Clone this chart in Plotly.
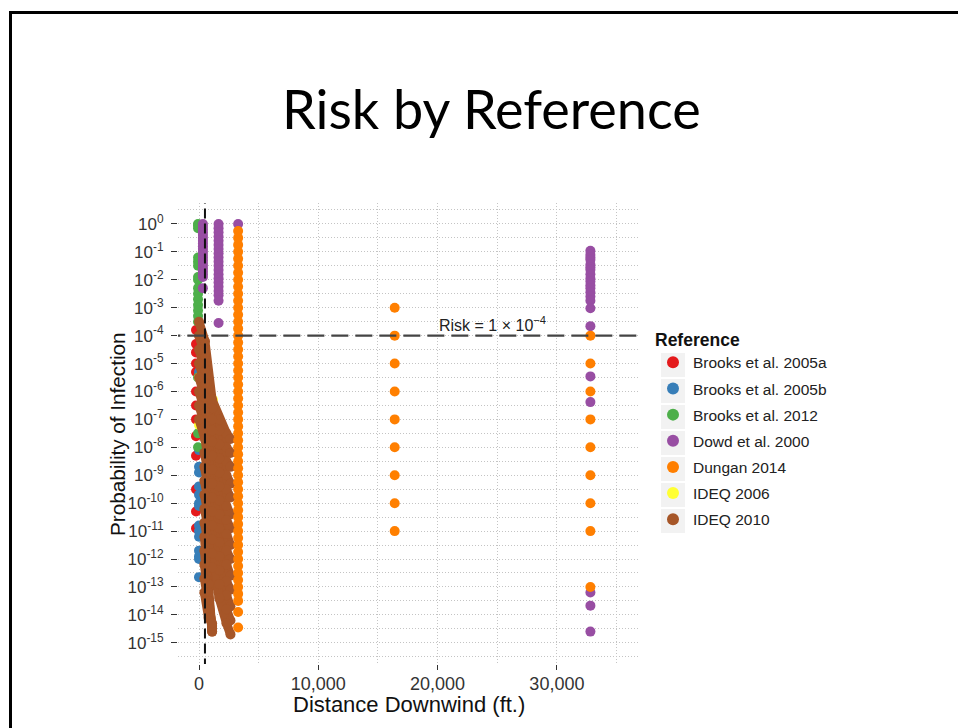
import plotly.graph_objects as go

# ---------------- data (log10 of probability) ----------------
brooks2005a_x = [-250] * 13
brooks2005a_log = [-3.8, -4.3, -4.6, -5.0, -5.3, -6.0, -6.5, -7.0, -7.6, -8.3, -9.5, -10.3, -10.9]

brooks2005b_x = [0] * 15
brooks2005b_log = [-5.3, -8.1, -8.7, -8.9, -9.4, -9.7, -10.0, -10.1, -10.8, -11.0, -11.2, -11.7, -11.9, -12.0, -12.65]

brooks2012_x = [-80] * 18
brooks2012_log = [0.0, -0.05, -0.15, -1.2, -1.35, -1.5, -1.9, -2.0, -2.3, -2.5, -2.7, -2.9, -3.1, -3.3, -3.5, -5.5, -7.5, -8.0]

dowd_x = [328] * 21 + [1640] * 20 + [3281] + [32808] * 22
dowd_log = ([0.0, -0.1, -0.2, -0.3, -0.4, -0.5, -0.6, -0.7, -0.8, -0.9, -1.0, -1.1, -1.2, -1.3, -1.4,
             -1.5, -1.6, -1.7, -1.8, -1.9, -2.3]
            + [0.0, -0.15, -0.3, -0.45, -0.6, -0.75, -0.9, -1.05, -1.2, -1.35, -1.5, -1.65, -1.8, -1.95,
               -2.1, -2.25, -2.4, -2.55, -2.75, -3.55]
            + [0.0]
            + [-0.96, -1.1, -1.2, -1.28, -1.45, -1.55, -1.64, -1.8, -1.95, -2.06, -2.2, -2.3, -2.45,
               -2.6, -2.75, -3.02, -3.66, -5.46, -6.38, -13.2, -13.67, -14.6])

dungan_x = [3281] * 56 + [16404] * 9 + [32808] * 9
dungan_log = ([-0.25, -0.5, -0.75, -1.0, -1.25, -1.5, -1.75, -2.0, -2.25, -2.5, -2.75, -3.0, -3.25, -3.5,
               -3.75, -4.0, -4.25, -4.5, -4.75, -5.0, -5.25, -5.5, -5.75, -6.0, -6.25, -6.5, -6.75, -7.0,
               -7.25, -7.5, -7.75, -8.0, -8.25, -8.5, -8.75, -9.0, -9.25, -9.5, -9.75, -10.0, -10.25,
               -10.5, -10.75, -11.0, -11.25, -11.5, -11.75, -12.0, -12.25, -12.5, -12.75, -13.0, -13.25,
               -13.5, -13.9, -14.45]
              + [-3, -4, -5, -6, -7, -8, -9, -10, -11]
              + [-4, -5, -6, -7, -8, -9, -10, -11, -13])

ideq2006_x = [0, 0, 1170, 2000]
ideq2006_log = [-5.5, -7.2, -6.3, -9.0]

# IDEQ 2010: scenario curves of risk vs distance
ideq2010_dist_a = [0, 500, 1100, 1700, 2300, 2640]
ideq2010_curves_a = [
    [-3.5, -4.2, -6.3, -7.0, -7.5, -7.7],
    [-4.0, -4.7, -6.6, -7.4, -8.0, -8.2],
    [-4.5, -5.2, -7.0, -7.9, -8.5, -8.7],
    [-5.0, -5.7, -7.4, -8.4, -9.0, -9.3],
    [-5.5, -6.2, -7.8, -8.9, -9.5, -9.8],
    [-6.0, -6.7, -8.3, -9.4, -10.1, -10.4],
    [-6.5, -7.2, -8.8, -9.9, -10.6, -10.9],
    [-7.0, -7.7, -9.3, -10.4, -11.1, -11.5],
]
ideq2010_dist_b = [450, 1100, 1700, 2300, 2640]
ideq2010_curves_b = [
    [-8.2, -9.8, -10.9, -11.7, -12.0],
    [-8.7, -10.3, -11.4, -12.2, -12.6],
    [-9.2, -10.8, -11.9, -12.8, -13.1],
    [-9.7, -11.3, -12.4, -13.3, -13.7],
    [-10.2, -11.8, -12.9, -13.8, -14.2],
    [-10.7, -12.3, -13.4, -14.3, -14.7],
]
ideq2010_dist_c = [450, 800, 1100]
ideq2010_curves_c = [
    [-11.2, -12.9, -14.6],
    [-11.7, -13.2, -14.6],
    [-12.2, -13.5, -14.5],
    [-12.7, -13.8, -14.4],
    [-13.2, -14.1, -14.3],
]

risk_threshold = 1e-4
distance_marker = 500

x_tickvals = [0, 10000, 20000, 30000]
x_ticktext = ["0", "10,000", "20,000", "30,000"]
y_exponents = list(range(0, -16, -1))
y_ticktext = ["10<sup>%d</sup>" % e for e in y_exponents]

colors = {
    "Brooks et al. 2005a": "#E41A1C",
    "Brooks et al. 2005b": "#377EB8",
    "Brooks et al. 2012": "#4DAF4A",
    "Dowd et al. 2000": "#984EA3",
    "Dungan 2014": "#FF7F00",
    "IDEQ 2006": "#FFFF33",
    "IDEQ 2010": "#A65628",
}
legend_order = list(colors.keys())

def p(logs):
    return [10 ** v for v in logs]

FONT = "Liberation Sans, Arial, sans-serif"
MS = 10

fig = go.Figure()

def add_points(name, xs, logs):
    fig.add_trace(go.Scatter(
        x=xs, y=p(logs), mode="markers", name=name,
        marker=dict(color=colors[name], size=MS, line=dict(width=0)),
        legendgroup=name, legendrank=legend_order.index(name) + 1,
        hoverinfo="x+y+name",
    ))

add_points("Brooks et al. 2005a", brooks2005a_x, brooks2005a_log)
add_points("Brooks et al. 2005b", brooks2005b_x, brooks2005b_log)
add_points("Brooks et al. 2012", brooks2012_x, brooks2012_log)
add_points("IDEQ 2006", ideq2006_x, ideq2006_log)

# IDEQ 2010 curves
cx, cy = [], []
for dist, curves in ((ideq2010_dist_a, ideq2010_curves_a),
                     (ideq2010_dist_b, ideq2010_curves_b),
                     (ideq2010_dist_c, ideq2010_curves_c)):
    for c in curves:
        cx += dist + [None]
        cy += p(c) + [None]
fig.add_trace(go.Scatter(
    x=cx, y=cy, mode="lines", line=dict(color=colors["IDEQ 2010"], width=MS - 1),
    showlegend=False, legendgroup="IDEQ 2010", hoverinfo="skip",
))
nx = [v for v in cx if v is not None]
ny = [v for v in cy if v is not None]
fig.add_trace(go.Scatter(
    x=nx, y=ny, mode="markers", name="IDEQ 2010",
    marker=dict(color=colors["IDEQ 2010"], size=MS),
    legendgroup="IDEQ 2010", legendrank=7,
))

add_points("Dowd et al. 2000", dowd_x, dowd_log)
add_points("Dungan 2014", dungan_x, dungan_log)

# reference lines
X_RANGE = [-1760, 36966]
Y_RANGE = [-15.76, 0.75]
fig.add_trace(go.Scatter(
    x=[distance_marker, distance_marker], y=[10 ** -17, 10 ** 2], mode="lines",
    line=dict(color="#111111", width=2, dash="10px,5px"),
    showlegend=False, hoverinfo="skip",
))
fig.add_trace(go.Scatter(
    x=[-5000, 40000], y=[risk_threshold, risk_threshold], mode="lines",
    line=dict(color="#444444", width=2.2, dash="17px,7px"),
    showlegend=False, hoverinfo="skip",
))

L, R, T, B = 178, 958 - 640, 203, 728 - 664
PW, PH = 640 - 178, 664 - 203

def px(xp):
    return (xp - L) / PW

def py(yp):
    return (664 - yp) / PH

grid = dict(gridcolor="#c4c4c4", gridwidth=1, griddash="1px,2px")

# grey legend key backgrounds (ggplot style)
key_shapes = []
for k in range(len(legend_order)):
    top = 353 + 26 * k
    key_shapes.append(dict(type="rect", xref="paper", yref="paper",
                           x0=px(661), x1=px(685), y0=py(top + 24), y1=py(top),
                           line=dict(width=0), fillcolor="#F2F2F2", layer="below"))

fig.update_layout(
    width=958, height=728,
    margin=dict(l=L, r=R, t=T, b=B, pad=0),
    paper_bgcolor="white", plot_bgcolor="white",
    font=dict(family=FONT, color="#222222"),
    xaxis=dict(
        range=X_RANGE, tickmode="array", tickvals=x_tickvals, ticktext=x_ticktext,
        ticks="outside", ticklen=5, tickwidth=1.2, tickcolor="#333333",
        ticklabelstandoff=-2,
        tickfont=dict(size=18, family=FONT, color="#333333"),
        showgrid=True, zeroline=False, showline=False, **grid,
        minor=dict(tickvals=[5000, 15000, 25000, 35000], showgrid=True, ticks="", **grid),
    ),
    yaxis=dict(
        type="log", range=Y_RANGE, tickmode="array",
        tickvals=[10 ** e for e in y_exponents], ticktext=y_ticktext,
        ticks="outside", ticklen=6, tickwidth=1.2, tickcolor="#333333",
        ticklabelstandoff=4,
        tickfont=dict(size=17, family=FONT, color="#333333"),
        showgrid=True, zeroline=False, showline=False, **grid,
        minor=dict(tickvals=[10 ** (e - 0.5) for e in y_exponents] + [10 ** 0.5],
                   showgrid=True, ticks="", **grid),
    ),
    legend=dict(
        x=px(653), y=py(323), xanchor="left", yanchor="top",
        title=dict(text="<b>Reference</b>", font=dict(size=17.5, family=FONT, color="#111111")),
        font=dict(size=15.5, family=FONT, color="#222222"),
        traceorder="grouped", tracegroupgap=3, itemsizing="constant", itemwidth=30,
        bgcolor="rgba(0,0,0,0)",
    ),
    showlegend=True,
    annotations=[
        dict(text="Risk by Reference", x=px(491), y=py(108), xref="paper", yref="paper",
             showarrow=False, xanchor="center", yanchor="middle",
             font=dict(family="Lato, sans-serif", size=54, color="#000000")),
        dict(text="Probability of Infection", x=px(117), y=py(434), xref="paper", yref="paper",
             showarrow=False, textangle=-90, xanchor="center", yanchor="middle",
             font=dict(family=FONT, size=20.7, color="#111111")),
        dict(text="Distance Downwind (ft.)", x=px(409), y=py(704), xref="paper", yref="paper",
             showarrow=False, xanchor="center", yanchor="middle",
             font=dict(family=FONT, size=22, color="#111111")),
        dict(text="Risk = 1 × 10<sup>−4</sup>", x=24560, y=-4, xref="x", yref="y",
             showarrow=False, xanchor="center", yanchor="bottom", yshift=0,
             font=dict(family=FONT, size=16, color="#222222")),
    ],
    shapes=key_shapes + [
        dict(type="rect", xref="paper", yref="paper",
             x0=px(10.5), x1=px(1010), y0=py(780), y1=py(12.5),
             line=dict(color="black", width=3), fillcolor="rgba(0,0,0,0)", layer="above"),
    ],
)

fig.write_html("out.html")
